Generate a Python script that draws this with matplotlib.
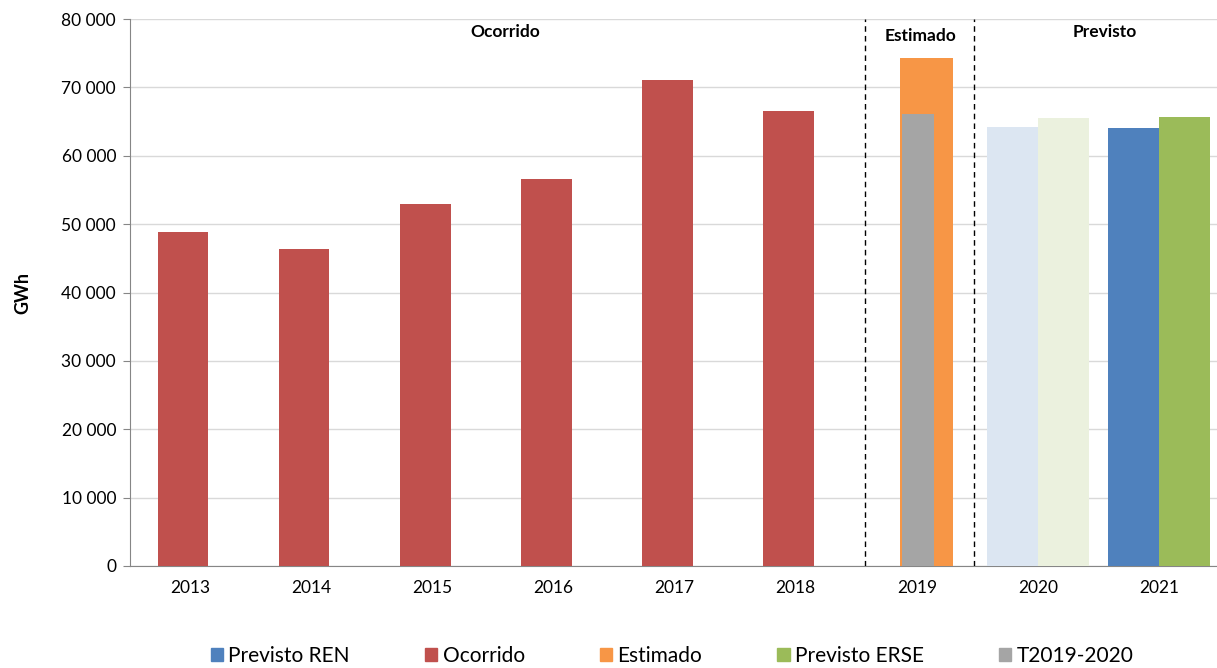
import matplotlib.pyplot as plt
from matplotlib.patches import Rectangle
from matplotlib.ticker import FuncFormatter

plt.rcParams['font.family'] = ['Lato', 'DejaVu Sans']

years = ["2013", "2014", "2015", "2016", "2017", "2018", "2019", "2020", "2021"]
ocorrido = [48850, 46350, 53000, 56600, 71100, 66550]
estimado_2019 = 74300
t2019_2020 = 66100
previsto_ren = [64200, 64100]
previsto_erse = [65500, 65700]

c_red = "#C0504D"
c_orange = "#F79646"
c_gray = "#A5A5A5"
c_blue = "#4F81BD"
c_green = "#9BBB59"
c_blue_light = "#DCE6F2"
c_green_light = "#EBF1DE"

fig = plt.figure(figsize=(12.17, 6.68), dpi=100)
ax = fig.add_axes([130 / 1217, 1 - 566 / 668, 1087 / 1217, 547 / 668])

# ocorrido
xs = list(range(len(ocorrido)))
ax.bar([x - 0.062 for x in xs], ocorrido, width=0.42, color=c_red, zorder=3)

# 2019: estimado + T2019-2020
ax.bar(6 + 0.082, estimado_2019, width=0.44, color=c_orange, zorder=3)
ax.bar(6 + 0.01, t2019_2020, width=0.26, color=c_gray, zorder=4)

# 2020 (pale) and 2021
ax.bar(7 - 0.21, previsto_ren[0], width=0.42, color=c_blue_light, zorder=3)
ax.bar(7 + 0.21, previsto_erse[0], width=0.42, color=c_green_light, zorder=3)
ax.bar(8 - 0.21, previsto_ren[1], width=0.42, color=c_blue, zorder=3)
ax.bar(8 + 0.21, previsto_erse[1], width=0.42, color=c_green, zorder=3)

ax.axvline(5.57, color="black", linestyle=(0, (4, 3)), linewidth=1, zorder=5)
ax.axvline(6.47, color="black", linestyle=(0, (4, 3)), linewidth=1, zorder=5)

ax.text(2.6, 78100, "Ocorrido", ha="center", va="center", fontsize=12.5, fontweight="bold")
ax.text(6.03, 77500, "Estimado", ha="center", va="center", fontsize=12.5, fontweight="bold")
ax.text(7.55, 78100, "Previsto", ha="center", va="center", fontsize=12.5, fontweight="bold")

ax.set_xlim(-0.5, 8.48)
ax.set_ylim(0, 80000)
ax.set_yticks(range(0, 80001, 10000))
ax.yaxis.set_major_formatter(FuncFormatter(lambda v, p: f"{int(v):,}".replace(",", " ")))
ax.set_xticks(range(len(years)))
ax.set_xticklabels(years)
ax.tick_params(axis="x", length=0, pad=10, labelsize=12.5)
ax.tick_params(axis="y", length=5, color="#868686", labelsize=12.5, pad=5)
ax.grid(axis="y", color="#D9D9D9", linewidth=1, zorder=0)
for s in ["top", "right"]:
    ax.spines[s].set_visible(False)
ax.spines["left"].set_color("#868686")
ax.spines["bottom"].set_color("#868686")
ax.set_ylabel("GWh", fontsize=13, fontweight="bold", labelpad=22)

handles = [Rectangle((0, 0), 1, 1, color=c) for c in [c_blue, c_red, c_orange, c_green, c_gray]]
labels = ["Previsto REN", "Ocorrido", "Estimado", "Previsto ERSE", "T2019-2020"]
fig.legend(handles, labels, loc="center", bbox_to_anchor=(672 / 1217, 1 - 656 / 668), ncol=5,
           frameon=False, fontsize=15, handlelength=0.6, handleheight=0.6, handletextpad=0.25,
           columnspacing=3.6)

fig.savefig("out.png", dpi=100)
